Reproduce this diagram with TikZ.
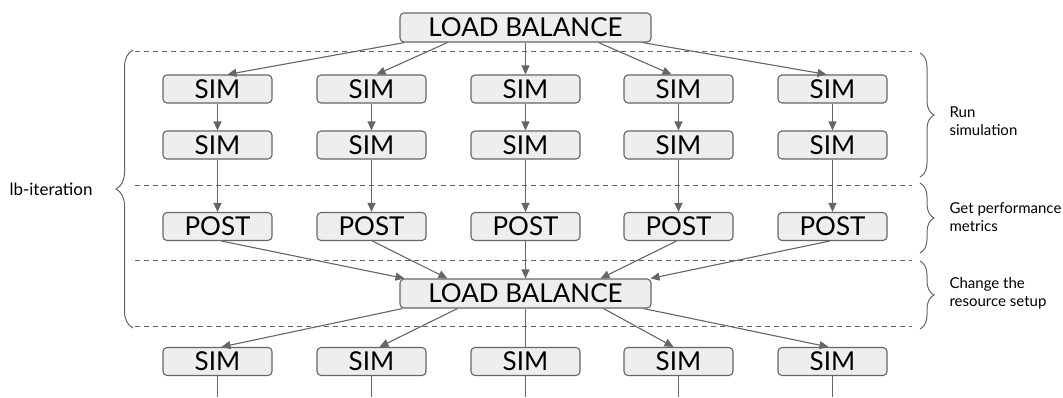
\documentclass[tikz,border=0pt]{standalone}
\usepackage{fontspec}
\setmainfont{Lato}
\usetikzlibrary{arrows.meta,calc,decorations.pathreplacing}
\definecolor{boxfill}{HTML}{EEEEEE}
\definecolor{edgegray}{HTML}{666666}

\begin{document}
\begin{tikzpicture}[x=1pt,y=-1pt,
  box/.style={draw=edgegray, fill=boxfill, rounded corners=4pt, line width=1.1pt,
    minimum height=28pt, inner sep=0pt, font=\fontsize{26}{26}\selectfont},
  simbox/.style={box, minimum width=109pt},
  lbbox/.style={box, minimum width=251pt, minimum height=29pt},
  flow/.style={draw=edgegray, line width=1.1pt, -{Triangle[length=9pt,width=8pt]}},
  link/.style={draw=edgegray, line width=1.1pt},
  sep/.style={draw=edgegray, line width=1pt, dash pattern=on 5pt off 4pt},
  curly/.style={draw=edgegray, line width=1pt, decorate, decoration={brace, amplitude=#1}},
  note/.style={font=\fontsize{15}{18}\selectfont, align=left, anchor=west}]

\fill[white] (0,0) rectangle (1063,397);
\useasboundingbox (0,0) rectangle (1063,397);

% phase separators
\foreach \yy in {51,185,260,326}
  \draw[sep] (135,\yy) -- (912,\yy);

% load balancers
\node[lbbox] (lbtop) at (525.5,27.5) {LOAD BALANCE};
\node[lbbox] (lbmid) at (525.5,293.5) {LOAD BALANCE};

% worker columns
\foreach \i/\xx in {1/217.5,2/371.5,3/525.5,4/678.5,5/832.5}{
  \node[simbox] (sa\i) at (\xx,89) {SIM};
  \node[simbox] (sb\i) at (\xx,145) {SIM};
  \node[simbox] (po\i) at (\xx,226.5) {POST};
  \node[simbox] (sc\i) at (\xx,361.5) {SIM};
  \coordinate (out\i) at (\xx,397);
  \draw[flow] (sa\i) -- (sb\i);
  \draw[flow] (sb\i) -- (po\i);
  \draw[link] (sc\i.south) -- (out\i);
}

% fan-out from the first balancer
\draw[flow] ($(lbtop.south west)+(5,0)$) -- ($(sa1.north)+(10,0)$);
\draw[flow] ($(lbtop.south west)+(48,0)$) -- ($(sa2.north)+(5,0)$);
\draw[flow] (lbtop.south) -- (sa3.north);
\draw[flow] ($(lbtop.south east)+(-53,0)$) -- ($(sa4.north)+(-7,0)$);
\draw[flow] ($(lbtop.south east)+(-9,0)$) -- ($(sa5.north)+(-6,0)$);

% gather into the second balancer
\draw[flow] ($(po1.south)+(4,0)$) -- ($(lbmid.north west)+(5,0)$);
\draw[flow] ($(po2.south)+(1,0)$) -- ($(lbmid.north west)+(48,0)$);
\draw[flow] (po3.south) -- (lbmid.north);
\draw[flow] ($(po4.south)+(-2,0)$) -- ($(lbmid.north east)+(-51,0)$);
\draw[flow] ($(po5.south)+(-3,0)$) -- ($(lbmid.north east)+(-1,0)$);

% fan-out to the next iteration
\draw[flow] ($(lbmid.south west)+(3,0)$) -- ($(sc1.north)+(4,0)$);
\draw[flow] ($(lbmid.south west)+(58,0)$) -- ($(sc2.north)+(8,0)$);
\draw[link] (lbmid.south) -- (sc3.north);
\draw[flow] ($(lbmid.south east)+(-48,0)$) -- ($(sc4.north)+(-5,0)$);
\draw[flow] ($(lbmid.south east)+(-8,0)$) -- ($(sc5.north)+(-4,0)$);

% braces and phase labels
\draw[curly=17pt] (133,328) -- (133,50);
\node[anchor=east, font=\fontsize{17}{20}\selectfont] (lbit) at (96,189) {lb-iteration};

\draw[curly=14pt] (920,53) -- (920,177);
\draw[curly=14pt] (920,183) -- (920,253);
\draw[curly=14pt] (920,261) -- (920,329);
\node[note] (run) at (946,121) {Run\\simulation};
\node[note] (get) at (946,217) {Get performance\\metrics};
\node[note] (chg) at (946,293) {Change the\\resource setup};
\end{tikzpicture}
\end{document}
